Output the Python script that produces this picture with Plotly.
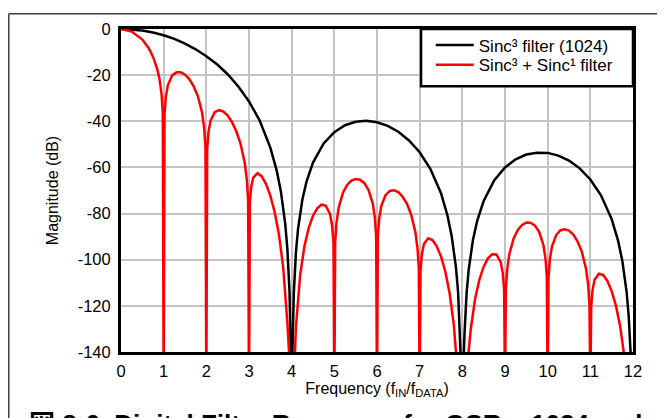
import plotly.graph_objects as go

# Sinc3 filter (1024) response
freq_sinc3 = [0, 0.25, 0.5, 0.75, 1, 1.25, 1.5, 1.75, 2, 2.25, 2.5, 2.75, 3, 3.25, 3.5, 3.65,
              3.75, 3.85, 3.9, 3.95, 3.98, 4, 4.02, 4.05, 4.1, 4.15, 4.25, 4.35, 4.5, 4.75, 5,
              5.25, 5.5, 5.75, 6, 6.25, 6.5, 6.75, 7, 7.25, 7.5, 7.65, 7.75, 7.85, 7.9, 7.95, 8,
              8.05, 8.1, 8.15, 8.25, 8.35, 8.5, 8.75, 9, 9.25, 9.5, 9.75, 10, 10.25, 10.5, 10.75,
              11, 11.25, 11.5, 11.65, 11.75, 11.85, 11.9, 11.95, 12]
mag_sinc3 = [0, -0.2, -0.7, -1.5, -2.7, -4.3, -6.3, -8.8, -11.8, -15.3, -19.6, -24.9, -31.4,
             -39.7, -51.4, -61.4, -70.7, -84.6, -95.5, -113.9, -137.9, -160, -138.2, -114.5,
             -96.8, -86.6, -74.0, -66.0, -57.9, -49.6, -44.7, -41.7, -40.2, -39.8, -40.4, -42.0,
             -44.5, -48.3, -53.4, -60.6, -71.2, -80.7, -89.7, -103.2, -113.9, -132.1, -160,
             -132.4, -114.5, -104.2, -91.3, -83.0, -74.5, -65.5, -60.0, -56.5, -54.4, -53.6,
             -53.7, -54.9, -57.0, -60.4, -65.2, -72.1, -82.4, -91.7, -100.5, -113.9, -124.5,
             -142.7, -160]

# Sinc3 + Sinc1 filter response, one row per lobe
freq_sinc31 = [
    0, 0.25, 0.5, 0.65, 0.75, 0.85, 0.9, 0.95, 0.98, 1.0,
    1.02, 1.05, 1.1, 1.2, 1.3, 1.4, 1.5, 1.6, 1.7, 1.8, 1.9, 1.95, 1.98, 2.0,
    2.02, 2.05, 2.1, 2.2, 2.3, 2.4, 2.5, 2.6, 2.7, 2.8, 2.9, 2.95, 2.98, 3.0,
    3.02, 3.05, 3.1, 3.2, 3.3, 3.4, 3.5, 3.6, 3.7, 3.8, 3.9, 3.95, 4.0,
    4.05, 4.1, 4.2, 4.3, 4.4, 4.5, 4.6, 4.7, 4.8, 4.9, 4.95, 4.98, 5.0,
    5.02, 5.05, 5.1, 5.2, 5.3, 5.4, 5.5, 5.6, 5.7, 5.8, 5.9, 5.95, 5.98, 6.0,
    6.02, 6.05, 6.1, 6.2, 6.3, 6.4, 6.5, 6.6, 6.7, 6.8, 6.9, 6.95, 6.98, 7.0,
    7.02, 7.05, 7.1, 7.2, 7.3, 7.4, 7.5, 7.6, 7.7, 7.8, 7.9, 8.0,
    8.1, 8.15, 8.2, 8.3, 8.4, 8.5, 8.6, 8.7, 8.8, 8.9, 8.95, 8.98, 9.0,
    9.02, 9.05, 9.1, 9.2, 9.3, 9.4, 9.5, 9.6, 9.7, 9.8, 9.9, 9.95, 9.98, 10.0,
    10.02, 10.05, 10.1, 10.2, 10.3, 10.4, 10.5, 10.6, 10.7, 10.8, 10.9, 10.95, 10.98, 11.0,
    11.02, 11.05, 11.1, 11.2, 11.3, 11.4, 11.5, 11.6, 11.7, 11.8, 11.85,
]
mag_sinc31 = [
    0, -1.1, -4.6, -8.3, -12.0, -17.4, -21.4, -28.1, -36.4, -160,
    -37.0, -29.5, -24.3, -20.1, -18.8, -18.8, -19.8, -21.7, -24.7, -29.0, -36.2, -43.0, -51.4, -160,
    -52.1, -44.7, -39.7, -36.0, -35.2, -35.8, -37.5, -40.3, -44.2, -49.6, -58.0, -65.4, -74.3, -160,
    -75.6, -68.6, -64.4, -62.5, -63.9, -67.2, -72.2, -79.2, -88.9, -103.0, -127.5, -151.9, -160,
    -152.7, -129.2, -106.5, -94.1, -86.2, -80.9, -77.7, -76.1, -76.6, -80.3, -85.5, -92.9, -160,
    -92.5, -84.2, -77.6, -71.1, -67.6, -65.7, -65.0, -65.3, -66.7, -69.7, -75.6, -81.7, -89.9, -160,
    -90.1, -82.4, -76.8, -72.0, -70.2, -69.9, -70.7, -72.7, -75.7, -80.4, -88.1, -95.2, -103.9, -160,
    -104.7, -97.8, -93.2, -90.7, -91.5, -94.2, -98.6, -105.1, -114.3, -128.0, -152.0, -160,
    -152.8, -139.2, -129.7, -116.9, -108.6, -103.0, -99.4, -97.6, -97.7, -101.1, -106.0, -113.4, -160,
    -112.8, -104.5, -97.7, -90.9, -87.1, -84.9, -83.9, -84.0, -85.2, -87.9, -93.6, -99.6, -107.6, -160,
    -107.8, -100.0, -94.3, -89.3, -87.2, -86.8, -87.4, -89.1, -92.0, -96.5, -104.0, -110.9, -119.6, -160,
    -120.4, -113.4, -108.7, -106.1, -106.6, -109.2, -113.6, -119.9, -128.9, -142.4, -155.0,
]

x_ticks = list(range(0, 13))
y_ticks = [-140, -120, -100, -80, -60, -40, -20, 0]
y_labels = ["-140", "-120", "-100", "-80", "-60", "-40", "-20", "0"]

FONT = "Liberation Sans, Arial, Noto Sans CJK JP, sans-serif"

fig = go.Figure()
fig.add_trace(go.Scatter(
    x=freq_sinc3, y=mag_sinc3, mode="lines",
    line=dict(color="black", width=2.5),
    name="Sinc³ filter (1024)", legend="legend",
))
fig.add_trace(go.Scatter(
    x=freq_sinc31, y=mag_sinc31, mode="lines",
    line=dict(color="#ff0000", width=2.5),
    name="Sinc³ + Sinc¹ filter", legend="legend2",
))

# one legend per row so the rows sit as close as in the original
legend_style = dict(
    xanchor="left", yanchor="top", bgcolor="rgba(0,0,0,0)", borderwidth=0,
    font=dict(size=17), itemwidth=38,
)

# page body has an 8px margin, so the figure is sized to fit inside the window
fig.update_layout(
    width=657, height=410,
    margin=dict(l=113, r=32, t=16, b=66),
    paper_bgcolor="white", plot_bgcolor="white",
    font=dict(family=FONT, color="black", size=16),
    showlegend=True,
    legend=dict(x=0.605, y=1.005, **legend_style),
    legend2=dict(x=0.605, y=0.944, **legend_style),
)

fig.update_xaxes(
    range=[0, 12], tickvals=x_ticks, ticks="",
    showgrid=True, gridcolor="#c4c4c4", gridwidth=1.5, zeroline=False,
    showline=True, linecolor="black", linewidth=3, mirror=True,
    tickfont=dict(size=16.5), ticklabelstandoff=2,
    title=dict(text="Frequency (f<sub>IN</sub>/f<sub>DATA</sub>)", font=dict(size=16), standoff=2),
)
fig.update_yaxes(
    range=[-140, 0], tickvals=y_ticks, ticktext=y_labels, ticks="",
    showgrid=True, gridcolor="#c4c4c4", gridwidth=1.5, zeroline=False,
    showline=True, linecolor="black", linewidth=3, mirror=True,
    tickfont=dict(size=16.5), ticklabelstandoff=4,
    title=dict(text="Magnitude (dB)", font=dict(size=16), standoff=16),
)

# legend frame
fig.add_shape(type="rect", xref="paper", yref="paper", x0=0.586, x1=1.0, y0=0.823, y1=1.0,
              line=dict(color="black", width=2.5), fillcolor="white", layer="above")
# outer page frame (top and left rules)
fig.add_shape(type="line", xref="paper", yref="paper", x0=-0.2192, x1=1.07, y0=1.0472, y1=1.0472,
              line=dict(color="#404040", width=1.5))
fig.add_shape(type="line", xref="paper", yref="paper", x0=-0.2192, x1=-0.2192, y0=1.0472, y1=-0.25,
              line=dict(color="#404040", width=1.5))

# figure caption, cut off by the page edge
fig.add_annotation(
    text="<b>図 8-6. Digital Filter Response for OSR = 1024 and</b>",
    xref="paper", yref="paper", x=-0.184, y=-0.224, xanchor="left", yanchor="middle",
    showarrow=False, font=dict(size=26, family=FONT),
)

fig.write_html("out.html")
